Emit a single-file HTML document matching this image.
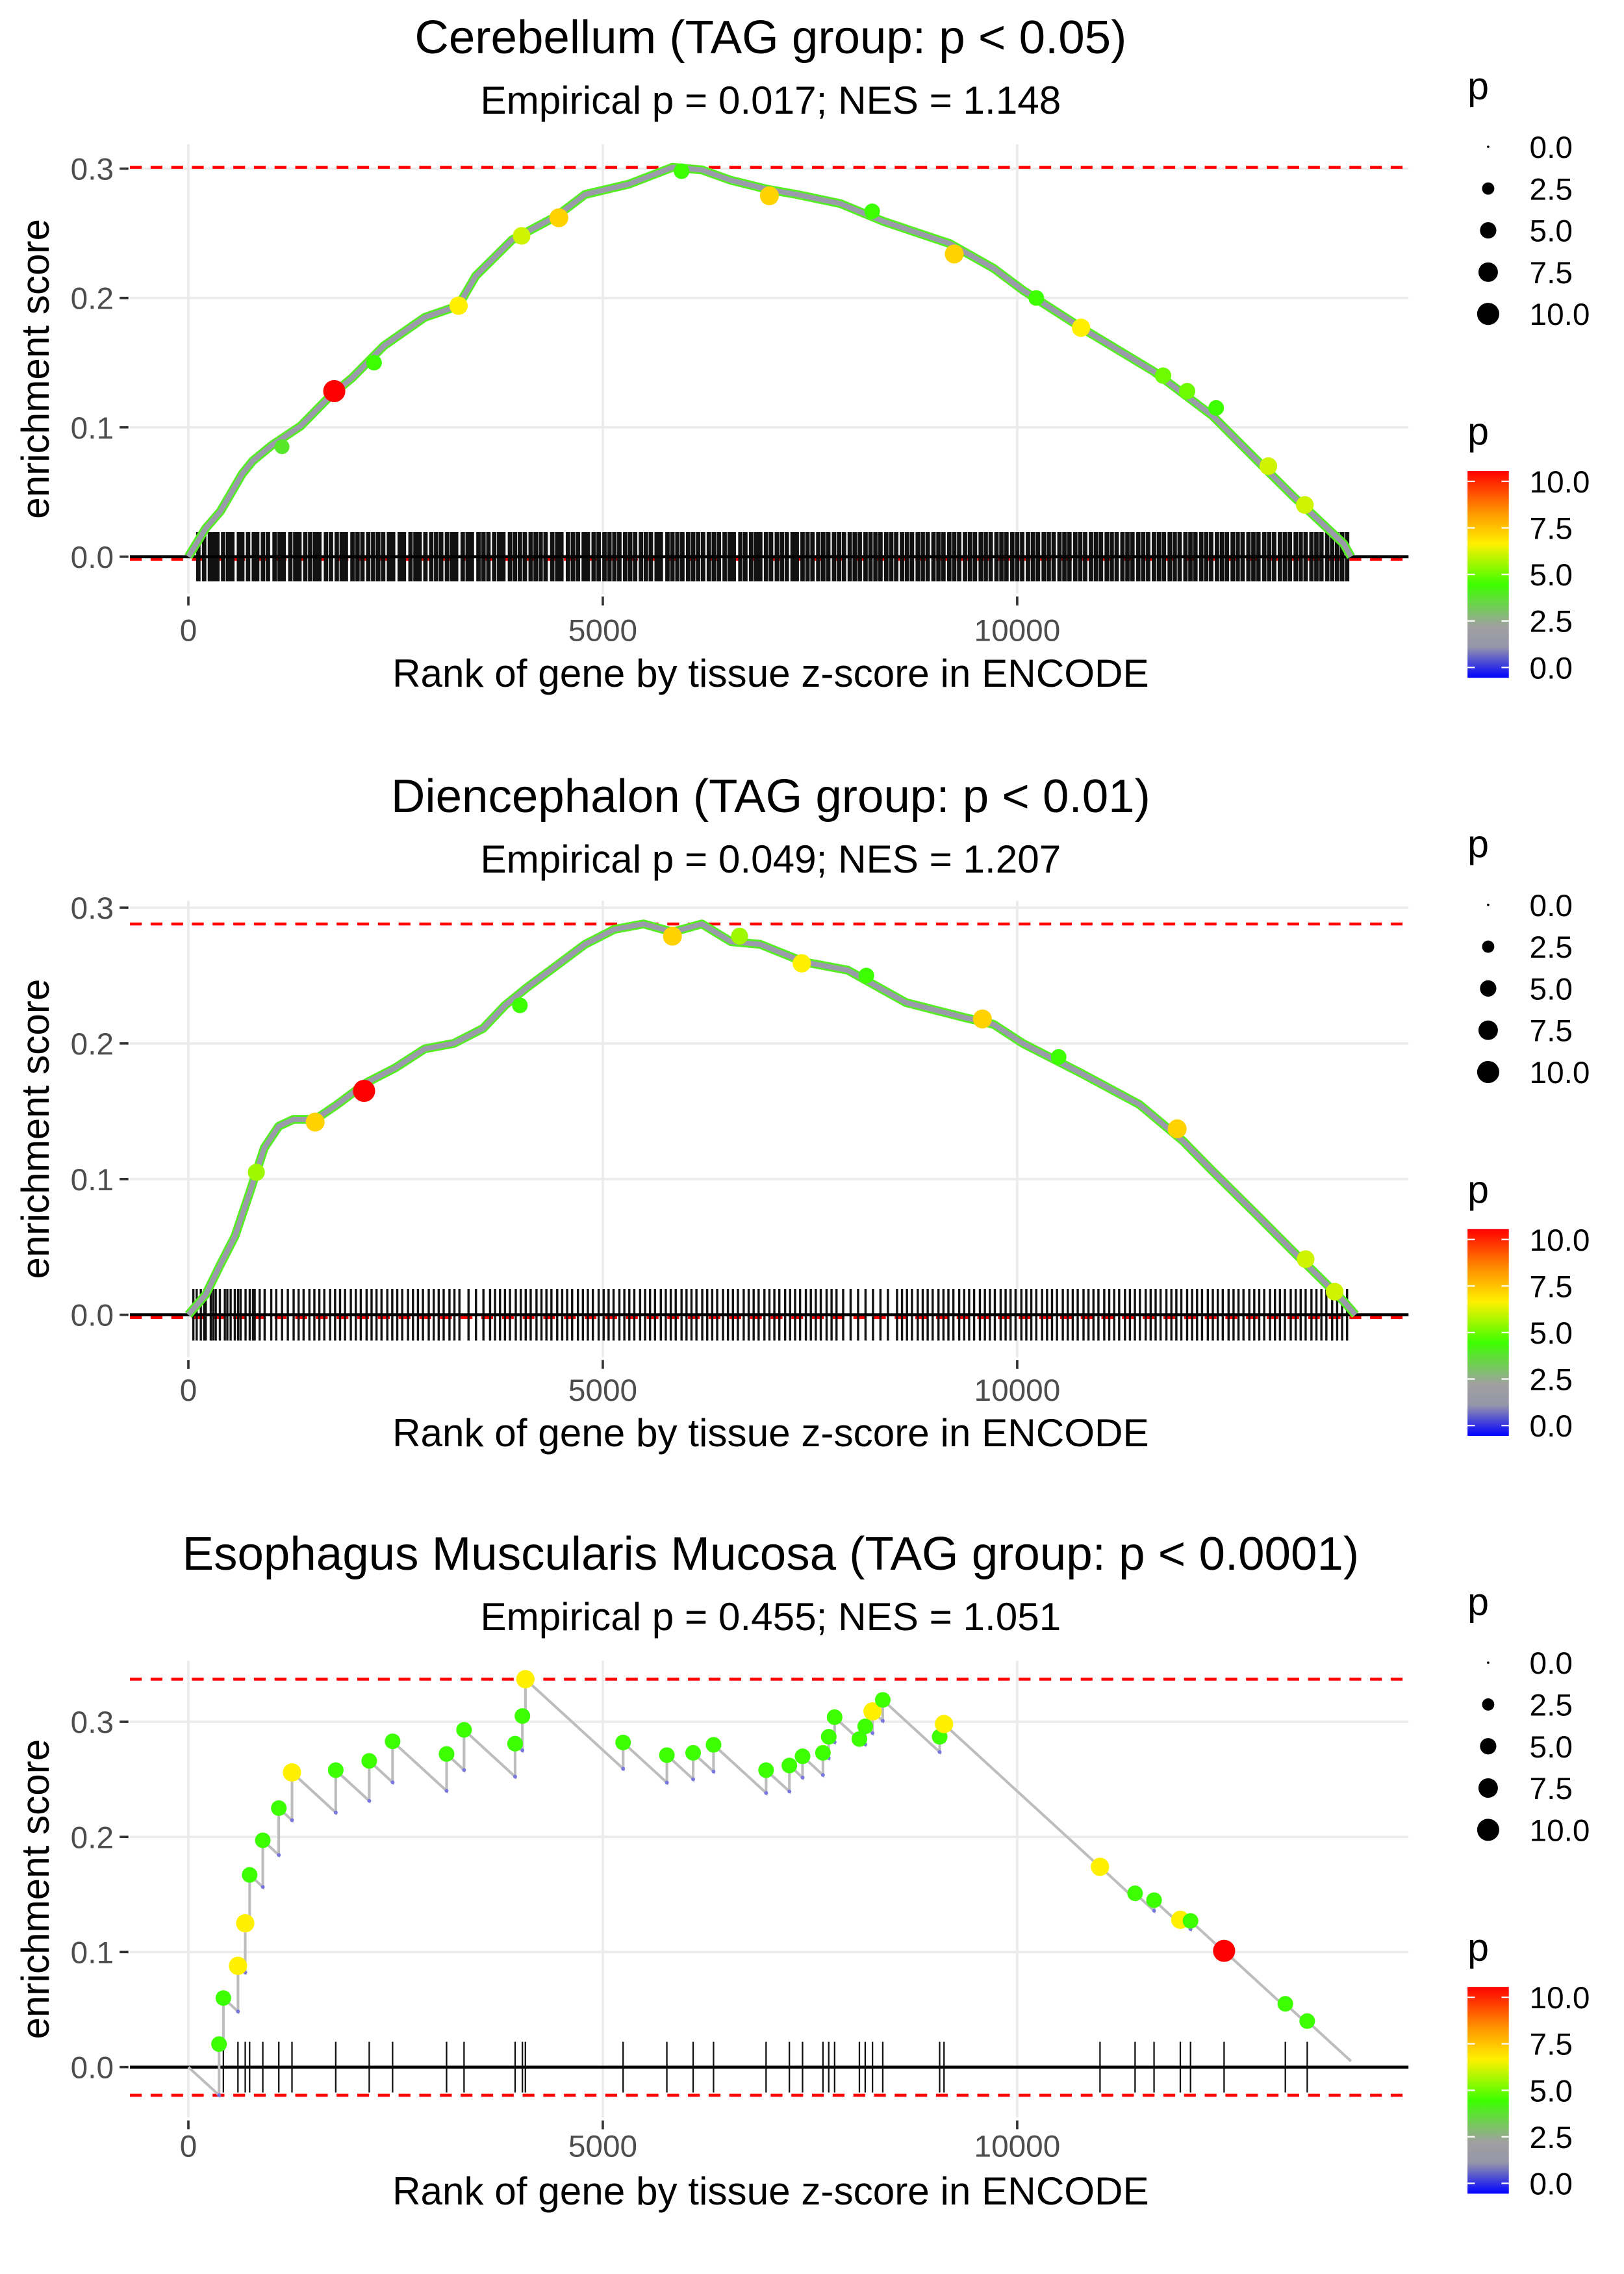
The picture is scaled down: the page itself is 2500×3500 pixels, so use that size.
<!DOCTYPE html>
<html><head><meta charset="utf-8"><style>
html,body{margin:0;padding:0;background:#fff}
svg{display:block}
text{font-family:"Liberation Sans","DejaVu Sans",sans-serif}
</style></head><body>
<svg id="chart" width="2500" height="3500" viewBox="0 0 1100 1540" xmlns="http://www.w3.org/2000/svg"></svg>
<script>
// ---------- Data ----------
const p1Titles = ["Cerebellum (TAG group: p < 0.05)", "Empirical p = 0.017; NES = 1.148"];
const p2Titles = ["Diencephalon (TAG group: p < 0.01)", "Empirical p = 0.049; NES = 1.207"];
const p3Titles = ["Esophagus Muscularis Mucosa (TAG group: p < 0.0001)", "Empirical p = 0.455; NES = 1.051"];
const xTicks = [0, 5000, 10000];
const p1YTicks = [0.0, 0.1, 0.2, 0.3];
const p2YTicks = [0.0, 0.1, 0.2, 0.3];
const p3YTicks = [0.0, 0.1, 0.2, 0.3];
const sizeLegendVals = [0.0, 2.5, 5.0, 7.5, 10.0];
const colorLegendVals = [10.0, 7.5, 5.0, 2.5, 0.0];

const p1CurveRank = [0,211,387,651,774,1003,1355,1707,1971,2358,2851,3256,3467,3907,4435,4787,5315,5843,6195,6547,6987,7339,7867,8395,9187,9715,10067,10771,11651,12355,12883,13323,13675,13939,14027];
const p1CurveES = [0,.022,.035,.064,.074,.086,.101,.124,.138,.163,.185,.194,.217,.245,.263,.280,.288,.301,.299,.291,.284,.280,.273,.259,.242,.223,.206,.177,.143,.109,.075,.047,.026,.010,0];
const p1DotRank = [1760,4470,3260,4020,7010,9240,10770,13030,13470,11760,12050,12400,5950,8250,10230,2240,1130];
const p1DotES = [.128,.262,.194,.248,.279,.234,.177,.070,.040,.140,.128,.115,.298,.267,.200,.150,.085];
const p1DotP = [10,7,6.5,6,7,7,6.5,6,6,5,5,4.5,4.5,4.5,4.5,4.5,4];
const p1Hits = [120,190,260,300,350,420,480,530,610,650,720,790,830,900,960,1040,1100,1150,1230,1290,1340,1410,1470,1530,1580,1660,1720,1790,1850,1900,1980,2040,2100,2170,2230,2290,2350,2420,2470,2550,2600,2680,2740,2790,2860,2930,2990,3050,3120,3180,3230,3310,3370,3420,3500,3560,3620,3690,3750,3800,3880,3940,4000,4060,4130,4190,4250,4310,4390,4450,4500,4580,4640,4700,4770,4820,4890,4950,5020,5080,5140,5200,5270,5330,5390,5460,5520,5580,5650,5700,5780,5840,5900,5960,6030,6090,6150,6210,6280,6340,6400,6470,6530,6580,6660,6720,6790,6850,6900,6970,7030,7100,7160,7220,7290,7340,7410,7470,7530,7600,7660,7720,7790,7850,7910,7980,8040,8100,8170,8230,8290,8350,8420,8480,8540,8610,8670,8730,8800,8860,8920,8990,9050,9110,9180,9240,9300,9370,9430,9490,9560,9620,9680,9750,9810,9870,9940,10000,10060,10130,10190,10250,10320,10380,10440,10510,10570,10630,10700,10760,10820,10890,10950,11010,11080,11140,11200,11270,11330,11390,11460,11520,11580,11650,11710,11770,11840,11900,11960,12030,12090,12150,12220,12280,12340,12410,12470,12530,12600,12660,12720,12790,12850,12910,12980,13040,13100,13170,13230,13290,13360,13420,13480,13550,13610,13670,13740,13800,13860,13920,13980];

const p2CurveRank = [0,211,387,563,739,915,1091,1267,1531,1795,2147,2499,2851,3203,3555,3819,4083,4435,4787,5139,5491,5843,6195,6547,6899,7427,7955,8659,9363,9715,10067,10771,11475,12003,12355,12883,13323,13675,13939,14080];
const p2CurveES = [0,.015,.037,.058,.090,.123,.139,.144,.144,.155,.171,.182,.196,.200,.211,.228,.241,.257,.273,.284,.288,.282,.288,.275,.273,.260,.254,.230,.219,.214,.200,.178,.155,.128,.106,.074,.047,.026,.010,0];
const p2DotRank = [2120,1530,5840,6650,7400,9580,11930,13480,13830,820,4000,8180,10500];
const p2DotES = [.165,.142,.279,.279,.259,.218,.137,.041,.017,.105,.228,.250,.190];
const p2DotP = [10,7,7,5.5,6.5,7,7,6,6,5.5,4.5,4.5,4.5];
const p2Hits = [60,100,150,190,210,270,300,330,380,440,470,510,560,600,630,690,740,780,800,860,920,1000,1060,1130,1200,1270,1330,1390,1460,1520,1580,1640,1710,1770,1830,1890,1960,2020,2080,2150,2210,2270,2330,2400,2460,2520,2580,2650,2710,2770,2830,2900,2960,3020,3080,3150,3210,3270,3380,3470,3560,3640,3700,3760,3820,3880,3950,4010,4070,4130,4200,4260,4320,4380,4450,4510,4570,4630,4700,4760,4820,4880,4950,5010,5070,5130,5200,5260,5320,5380,5450,5510,5570,5630,5700,5760,5820,5880,5950,6010,6070,6130,6200,6260,6320,6380,6450,6510,6570,6630,6700,6760,6820,6880,6950,7010,7070,7130,7200,7260,7320,7380,7450,7510,7570,7630,7700,7760,7820,7900,7990,8080,8170,8260,8350,8440,8550,8610,8670,8730,8800,8860,8920,8980,9050,9110,9170,9230,9300,9360,9420,9480,9550,9610,9670,9730,9800,9860,9920,9980,10050,10110,10170,10230,10300,10360,10420,10480,10550,10610,10670,10730,10800,10860,10920,10980,11050,11110,11170,11230,11300,11360,11420,11480,11550,11610,11670,11730,11800,11860,11920,11980,12050,12110,12170,12230,12300,12360,12420,12480,12550,12610,12670,12730,12800,12860,12920,12980,13050,13110,13170,13230,13300,13360,13420,13480,13550,13610,13670,13730,13800,13860,13920,13980];

const p3HitRank = [370,422,598,686,739,898,1091,1250,1778,2182,2464,3115,3326,3942,4030,4066,5245,5773,6090,6336,6970,7251,7410,7656,7726,7797,8096,8166,8254,8378,9064,9117,10999,11422,11651,11968,12091,12496,13235,13499];
const p3HitES = [.02,.06,.088,.125,.167,.197,.225,.256,.258,.266,.283,.272,.293,.281,.305,.337,.282,.271,.273,.28,.258,.262,.27,.273,.287,.304,.285,.296,.309,.319,.287,.298,.174,.151,.145,.128,.127,.101,.055,.04];
const p3HitP = [4.5,4.5,6.5,6.5,4.5,4.5,4.5,6.5,4.5,4.5,4.5,4.5,4.5,4.5,4.5,6.5,4.5,4.5,4.5,4.5,4.5,4.5,4.5,4.5,4.5,4.5,4.5,4.5,6.5,4.5,4.5,6.5,6.5,4.5,4.5,6.5,4.5,10,4.5,4.5];
const p3TotalRank = 14027;
const p3MissStep = 0.000066;

// ---------- Helpers ----------
const svg = document.getElementById('chart');
const NS = 'http://www.w3.org/2000/svg';
function mk(tag, attrs, parent) {
  const e = document.createElementNS(NS, tag);
  for (const k in attrs) e.setAttribute(k, attrs[k]);
  (parent || svg).appendChild(e);
  return e;
}
function pColor(p) {
  const stops = [[0,[0,0,255]],[1.5,[150,150,170]],[2.5,[160,160,160]],[4.5,[60,255,0]],[6.5,[255,240,0]],[8,[255,150,0]],[10,[255,0,0]]];
  p = Math.max(0, Math.min(10, p));
  for (let i = 1; i < stops.length; i++) {
    if (p <= stops[i][0]) {
      const a = stops[i-1], b = stops[i], t = (p - a[0]) / (b[0] - a[0]);
      const c = a[1].map((v, j) => Math.round(v + (b[1][j] - v) * t));
      return `rgb(${c[0]},${c[1]},${c[2]})`;
    }
  }
  return 'rgb(255,0,0)';
}
function pRadius(p) { return 0.8 + Math.sqrt(Math.max(p, 0) / 10) * 6.7; }

const XL = 88, XR = 954;
function drawPanel(cfg) {
  const g = mk('g', {});
  
  
  const X = r => 127.6 + r * 280.7 / 5000;
  const Y = v => cfg.y0 - v * cfg.ys;
  for (const t of xTicks) {
    const l = mk('line', {x1: X(t), x2: X(t), y1: cfg.top, y2: cfg.bottom, stroke: '#ebebeb', 'stroke-width': 1.6}, g);
     
    const tk = mk('line', {x1: X(t), x2: X(t), y1: cfg.bottom + 2, y2: cfg.bottom + 8, stroke: '#333', 'stroke-width': 1.6}, g);
     
    const tx = mk('text', {x: X(t), y: cfg.tickY, 'text-anchor': 'middle', 'font-size': 21, fill: '#4d4d4d'}, g);
    tx.textContent = t;
     
  }
  for (const t of cfg.yTicks) {
    const l = mk('line', {x1: XL, x2: XR, y1: Y(t), y2: Y(t), stroke: '#ebebeb', 'stroke-width': 1.6}, g);
     
    const tk = mk('line', {x1: 81, x2: 87, y1: Y(t), y2: Y(t), stroke: '#333', 'stroke-width': 1.6}, g);
     
    const tx = mk('text', {x: 77, y: Y(t) + 7.5, 'text-anchor': 'end', 'font-size': 21, fill: '#4d4d4d'}, g);
    tx.textContent = t.toFixed(1);
     
  }
  let t1 = mk('text', {x: 522, y: cfg.titleY, 'text-anchor': 'middle', 'font-size': 32}, g);
  t1.textContent = cfg.titles[0];
   
  let t2 = mk('text', {x: 522, y: cfg.subY, 'text-anchor': 'middle', 'font-size': 26.5}, g);
  t2.textContent = cfg.titles[1];
   
  let xl = mk('text', {x: 522, y: cfg.xlabY, 'text-anchor': 'middle', 'font-size': 26.5}, g);
  xl.textContent = 'Rank of gene by tissue z-score in ENCODE';
   
  const yc = (cfg.top + cfg.bottom) / 2;
  let yl = mk('text', {x: 33, y: yc, 'text-anchor': 'middle', 'font-size': 26.5, transform: `rotate(-90 33 ${yc})`}, g);
  yl.textContent = 'enrichment score';
   
  return {g, X, Y};
}

function drawLines(P, esMax, esMin) {
  const z = mk('line', {x1: XL, x2: XR, y1: P.Y(0), y2: P.Y(0), stroke: '#000', 'stroke-width': 2}, P.g);
   
  for (const v of [esMax, esMin]) {
    const d = mk('line', {x1: XL, x2: XR, y1: P.Y(v), y2: P.Y(v), stroke: '#ff0000', 'stroke-width': 2, 'stroke-dasharray': '8,6'}, P.g);
     
  }
}

function drawHits(P, hits, half, w) {
  const hg = mk('g', {}, P.g);
   
  for (const r of hits) {
    const l = mk('line', {x1: P.X(r), x2: P.X(r), y1: P.Y(half), y2: P.Y(-half), stroke: '#111', 'stroke-width': w}, hg);
     
  }
}

function drawDense(cfg, curveR, curveE, dotR, dotE, dotP, hits, w) {
  const P = drawPanel(cfg);
  const esMax = Math.max(...curveE), esMin = Math.min(...curveE) - 0.002;
  drawLines(P, esMax, esMin);
  drawHits(P, hits, 0.019, w);
  const z = mk('line', {x1: XL, x2: XR, y1: P.Y(0), y2: P.Y(0), stroke: '#000', 'stroke-width': 2}, P.g);
   
  const pts = curveR.map((r, i) => `${P.X(r).toFixed(1)},${P.Y(curveE[i]).toFixed(1)}`).join(' ');
  let a = mk('polyline', {points: pts, fill: 'none', stroke: '#55ee22', 'stroke-width': 6, 'stroke-linejoin': 'round'}, P.g);
   
  let b = mk('polyline', {points: pts, fill: 'none', stroke: '#9a9aaa', 'stroke-width': 3.5, 'stroke-linejoin': 'round'}, P.g);
   
  dotR.forEach((r, i) => {
    const c = mk('circle', {cx: P.X(r), cy: P.Y(dotE[i]), r: pRadius(dotP[i]), fill: pColor(dotP[i])}, P.g);
     
  });
}

function drawSparse(cfg) {
  const P = drawPanel(cfg);
  const path = [[0, 0]]; const pre = [];
  let prevR = 0, prevE = 0;
  p3HitRank.forEach((r, i) => {
    const before = prevE - p3MissStep * (r - prevR);
    path.push([r, before]); pre.push([r, before]);
    path.push([r, p3HitES[i]]);
    prevR = r; prevE = p3HitES[i];
  });
  const endE = Math.max(0, prevE - p3MissStep * (p3TotalRank - prevR));
  path.push([p3TotalRank, endE]);
  const allE = path.map(p => p[1]);
  drawLines(P, Math.max(...allE), Math.min(...allE));
  drawHits(P, p3HitRank, 0.022, 1);
  const pts = path.map(p => `${P.X(p[0]).toFixed(1)},${P.Y(p[1]).toFixed(1)}`).join(' ');
  let b = mk('polyline', {points: pts, fill: 'none', stroke: '#bdbdbd', 'stroke-width': 1.8}, P.g);
   
  pre.forEach(p => {
    const c = mk('circle', {cx: P.X(p[0]), cy: P.Y(p[1]), r: 1.3, fill: '#7777dd'}, P.g);
     
  });
  p3HitRank.forEach((r, i) => {
    const c = mk('circle', {cx: P.X(r), cy: P.Y(p3HitES[i]), r: pRadius(p3HitP[i]), fill: pColor(p3HitP[i])}, P.g);
     
  });
}

function drawLegend(off) {
  const g = mk('g', {});
   
  let t = mk('text', {x: 994, y: off + 67, 'font-size': 26}, g); t.textContent = 'p';
   
  sizeLegendVals.forEach((v, i) => {
    const yy = off + 99.4 + i * 28.3;
    const c = mk('circle', {cx: 1008, cy: yy, r: pRadius(v), fill: '#000'}, g);
     
    const tx = mk('text', {x: 1036, y: yy + 7.5, 'font-size': 21}, g); tx.textContent = v.toFixed(1);
     
  });
  let t2 = mk('text', {x: 994, y: off + 301, 'font-size': 26}, g); t2.textContent = 'p';
   
  const gid = 'grad' + Math.round(off);
  const defs = mk('defs', {}, g);
  const lg = mk('linearGradient', {id: gid, x1: 0, y1: 1, x2: 0, y2: 0}, defs);
  for (let k = 0; k <= 20; k++) mk('stop', {offset: k / 20, 'stop-color': pColor(k / 2)}, lg);
  const by = off + 319, bh = 140;
  let r = mk('rect', {x: 994, y: by, width: 28, height: bh, fill: `url(#${gid})`}, g);
   
  colorLegendVals.forEach(v => {
    const yy = by + 7 + (10 - v) / 10 * (bh - 14);
    mk('line', {x1: 994, x2: 999, y1: yy, y2: yy, stroke: '#fff', 'stroke-width': 1}, g);
    mk('line', {x1: 1017, x2: 1022, y1: yy, y2: yy, stroke: '#fff', 'stroke-width': 1}, g);
    const tx = mk('text', {x: 1036, y: yy + 7.5, 'font-size': 21}, g); tx.textContent = v.toFixed(1);
     
  });
}

drawDense({name: 'cerebellum-panel', titles: p1Titles, yTicks: p1YTicks, y0: 377, ys: 876, top: 97.7, bottom: 402, titleY: 36, subY: 77, tickY: 434, xlabY: 465},
  p1CurveRank, p1CurveES, p1DotRank, p1DotES, p1DotP, p1Hits, 3);
drawDense({name: 'diencephalon-panel', titles: p2Titles, yTicks: p2YTicks, y0: 890.4, ys: 919, top: 610, bottom: 919, titleY: 550, subY: 591, tickY: 948.6, xlabY: 979.5},
  p2CurveRank, p2CurveES, p2DotRank, p2DotES, p2DotP, p2Hits, 1.5);
drawSparse({name: 'esophagus-panel', titles: p3Titles, yTicks: p3YTicks, y0: 1399.9, ys: 779.6, top: 1124.7, bottom: 1434, titleY: 1063, subY: 1104, tickY: 1460.5, xlabY: 1493});
drawLegend(0); drawLegend(513.4); drawLegend(1026.6);
</script>
</body></html>
